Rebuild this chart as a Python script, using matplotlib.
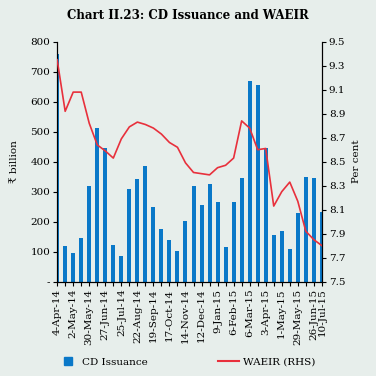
import numpy as np
import matplotlib.pyplot as plt
from matplotlib.lines import Line2D

# Fortnightly dates, 4-Apr-14 to 10-Jul-15
dates = ["4-Apr-14", "18-Apr-14", "2-May-14", "16-May-14", "30-May-14", "13-Jun-14",
         "27-Jun-14", "11-Jul-14", "25-Jul-14", "8-Aug-14", "22-Aug-14", "5-Sep-14",
         "19-Sep-14", "3-Oct-14", "17-Oct-14", "31-Oct-14", "14-Nov-14", "28-Nov-14",
         "12-Dec-14", "26-Dec-14", "9-Jan-15", "23-Jan-15", "6-Feb-15", "20-Feb-15",
         "6-Mar-15", "20-Mar-15", "3-Apr-15", "17-Apr-15", "1-May-15", "15-May-15",
         "29-May-15", "12-Jun-15", "26-Jun-15", "10-Jul-15"]
cd_issuance = [760, 118, 95, 145, 318, 513, 447, 122, 85, 308, 342, 385,
               250, 175, 140, 103, 203, 318, 254, 327, 265, 116, 265, 346,
               670, 655, 447, 155, 169, 108, 230, 350, 346, 232]
waeir = [9.35, 8.92, 9.08, 9.08, 8.82, 8.64, 8.59, 8.53, 8.69, 8.79, 8.83, 8.81,
         8.78, 8.73, 8.66, 8.62, 8.49, 8.41, 8.40, 8.39, 8.45, 8.47, 8.53, 8.84,
         8.78, 8.60, 8.61, 8.13, 8.25, 8.33, 8.17, 7.92, 7.85, 7.80]
shown_labels = [0, 2, 4, 6, 8, 10, 12, 14, 16, 18, 20, 22, 24, 26, 28, 30, 32, 33]

bg = '#e7eeeb'
blue = '#0a78c8'
red = '#e8303c'
plt.rcParams['font.family'] = ['DejaVu Serif']
plt.rcParams['font.size'] = 7.5

fig = plt.figure(figsize=(3.76, 3.76), dpi=100, facecolor=bg)
ax = fig.add_axes([0.152, 0.251, 0.704, 0.638])
ax.set_facecolor(bg)
x = np.arange(len(dates))

ax.bar(x, cd_issuance, width=0.5, color=blue, zorder=2)
ax.set_ylim(0, 800)
ax.set_yticks(np.arange(0, 801, 100))
ax.set_yticklabels(['-'] + [str(v) for v in range(100, 801, 100)])
ax.set_xlim(0, len(dates) - 1)
ax.set_xticks(x)
ax.set_xticklabels([d if i in shown_labels else '' for i, d in enumerate(dates)],
                   rotation=90)
ax.tick_params(axis='x', length=3, pad=2)
ax.tick_params(axis='y', length=3, pad=2)
ax.set_ylabel('₹ billion', fontsize=7.5, labelpad=8)
ax.spines['top'].set_visible(False)

ax2 = ax.twinx()
ax2.plot(x, waeir, color=red, lw=1.2, zorder=3)
ax2.set_ylim(7.5, 9.5)
ax2.set_yticks(np.round(np.arange(7.5, 9.51, 0.2), 1))
ax2.tick_params(axis='y', length=3, pad=2)
ax2.set_ylabel('Per cent', fontsize=7.5, labelpad=5)
ax2.spines['top'].set_visible(False)

fig.suptitle('Chart II.23: CD Issuance and WAEIR', fontsize=8.5, fontweight='bold',
             y=0.975)

handles = [Line2D([], [], ls='', marker='s', markersize=6, color=blue),
           Line2D([], [], color=red, lw=1.5)]
fig.legend(handles, ['CD Issuance', 'WAEIR (RHS)'], loc='lower left',
           bbox_to_anchor=(0.152, 0.025), ncol=2, frameon=False, columnspacing=6.8,
           handlelength=2.0, handletextpad=0.35, borderpad=0, borderaxespad=0,
           fontsize=7.5)

fig.savefig('out.png', dpi=100, facecolor=bg)
